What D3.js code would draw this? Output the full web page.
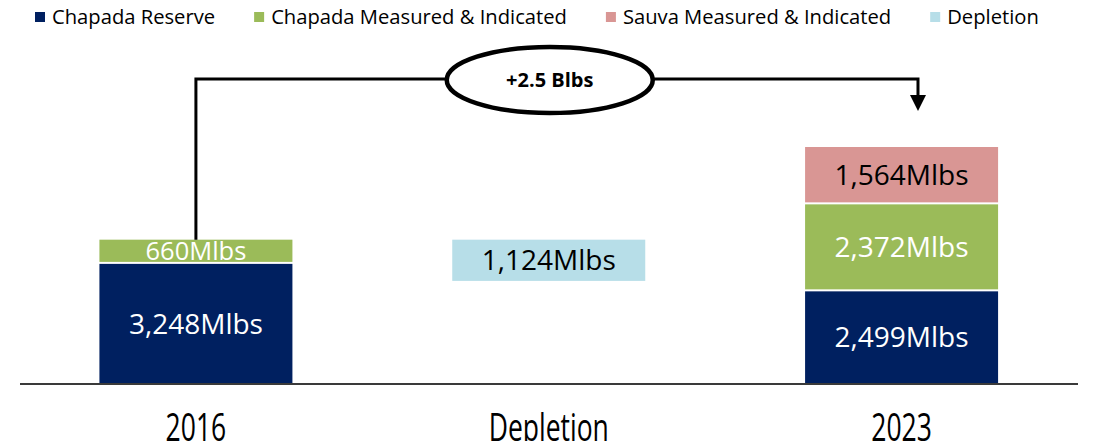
<!DOCTYPE html>
<html>
<head>
<meta charset="utf-8">
<script src="https://cdn.jsdelivr.net/npm/d3@7"></script>
<style>
  body { margin: 0; background: #fff; }
  svg { display: block; font-family: "Open Sans", sans-serif; }
</style>
</head>
<body>
<svg id="chart"></svg>
<script>
// data (Mlbs)
const categories = ["2016", "Depletion", "2023"];
const seriesNames = ["Chapada Reserve", "Chapada Measured & Indicated", "Sauva Measured & Indicated", "Depletion"];
const seriesColors = ["#002060", "#9BBB59", "#D99694", "#B7DEE8"];
const labelColors = ["#fff", "#fff", "#000", "#000"];
const reserve = [3248, 0, 2499];
const chapadaMI = [660, 0, 2372];
const sauvaMI = [0, 0, 1564];
const depletion = [0, 1124, 0];
const changeLabel = "+2.5 Blbs";

const width = 1099, height = 441;
const svg = d3.select("#chart").attr("width", width).attr("height", height);

const x = d3.scaleBand().domain(categories).range([19.5, 1078])
  .paddingInner(0.453).paddingOuter(0.2265);
const total2023 = reserve[2] + chapadaMI[2] + sauvaMI[2];
const y = d3.scaleLinear().domain([0, total2023]).range([383, 147]);

// build segments: depletion floats down from the 2016 total
const segs = [];
const top2016 = reserve[0] + chapadaMI[0];
categories.forEach((c, i) => {
  if (c === "Depletion") {
    segs.push({ cat: c, s: 3, y0: top2016 - depletion[i], y1: top2016, v: depletion[i] });
    return;
  }
  let base = 0;
  [reserve, chapadaMI, sauvaMI].forEach((arr, s) => {
    if (arr[i] > 0) {
      segs.push({ cat: c, s: s, y0: base, y1: base + arr[i], v: arr[i] });
      base += arr[i];
    }
  });
});

const g = svg.append("g");
g.selectAll("rect.seg").data(segs).join("rect")
  .attr("class", "seg")
  .attr("x", d => x(d.cat))
  .attr("width", x.bandwidth())
  .attr("y", d => y(d.y1))
  .attr("height", d => y(d.y0) - y(d.y1) - (d.y0 > 0 && d.s !== 3 ? 2 : 0))
  .attr("fill", d => seriesColors[d.s]);

g.selectAll("text.val").data(segs).join("text")
  .attr("class", "val")
  .attr("x", d => x(d.cat) + x.bandwidth() / 2)
  .attr("y", d => (y(d.y0) + y(d.y1)) / 2 - (d.y0 > 0 && d.s !== 3 ? 1 : 0))
  .attr("dy", "0.36em")
  .attr("text-anchor", "middle")
  .attr("font-size", d => (y(d.y0) - y(d.y1) < 30 ? 25.5 : 28))
  .attr("fill", d => labelColors[d.s])
  .text(d => d3.format(",")(d.v) + "Mlbs");

// baseline
svg.append("line")
  .attr("x1", 20).attr("x2", 1078)
  .attr("y1", y(0) + 1).attr("y2", y(0) + 1)
  .attr("stroke", "#3a3a3a").attr("stroke-width", 2);

// category labels (tall, condensed look)
svg.selectAll("text.cat").data(categories).join("text")
  .attr("class", "cat")
  .attr("transform", d => `translate(${x(d) + x.bandwidth() / 2},441) scale(1,1.42)`)
  .attr("text-anchor", "middle")
  .attr("font-size", 26.5)
  .attr("fill", "#000")
  .text(d => d);

// growth arrow with ellipse callout
const lineY = 79;
const ex = x("Depletion") + x.bandwidth() / 2 + 1, ey = 80, rx = 103, ry = 33;
const xLeft = x("2016") + x.bandwidth() / 2;
const xRight = x("2023") + x.bandwidth() * 0.585;
const arrow = svg.append("g").attr("fill", "none").attr("stroke", "#000").attr("stroke-width", 3);
arrow.append("path").attr("d", `M${xLeft},${y(top2016)} V${lineY} H${ex - rx}`);
arrow.append("path").attr("d", `M${ex + rx},${lineY} H${xRight} V${97}`);
svg.append("path")
  .attr("d", `M${xRight - 8},95 L${xRight + 8},95 L${xRight},111 Z`)
  .attr("fill", "#000");
svg.append("ellipse")
  .attr("cx", ex).attr("cy", ey).attr("rx", rx).attr("ry", ry)
  .attr("fill", "#fff").attr("stroke", "#000").attr("stroke-width", 4.5);
svg.append("text")
  .attr("x", ex).attr("y", ey).attr("dy", "0.36em")
  .attr("text-anchor", "middle")
  .attr("font-size", 20).attr("font-weight", "bold")
  .text(changeLabel);

// legend
const legend = svg.append("g");
let lx = 35;
seriesNames.forEach((name, i) => {
  legend.append("rect")
    .attr("x", lx).attr("y", 12).attr("width", 10).attr("height", 10)
    .attr("fill", seriesColors[i]);
  const t = legend.append("text")
    .attr("x", lx + 17).attr("y", 24)
    .attr("font-size", 20.2)
    .attr("fill", "#000")
    .text(name);
  lx += 17 + t.node().getComputedTextLength() + 39;
});
</script>
</body>
</html>
